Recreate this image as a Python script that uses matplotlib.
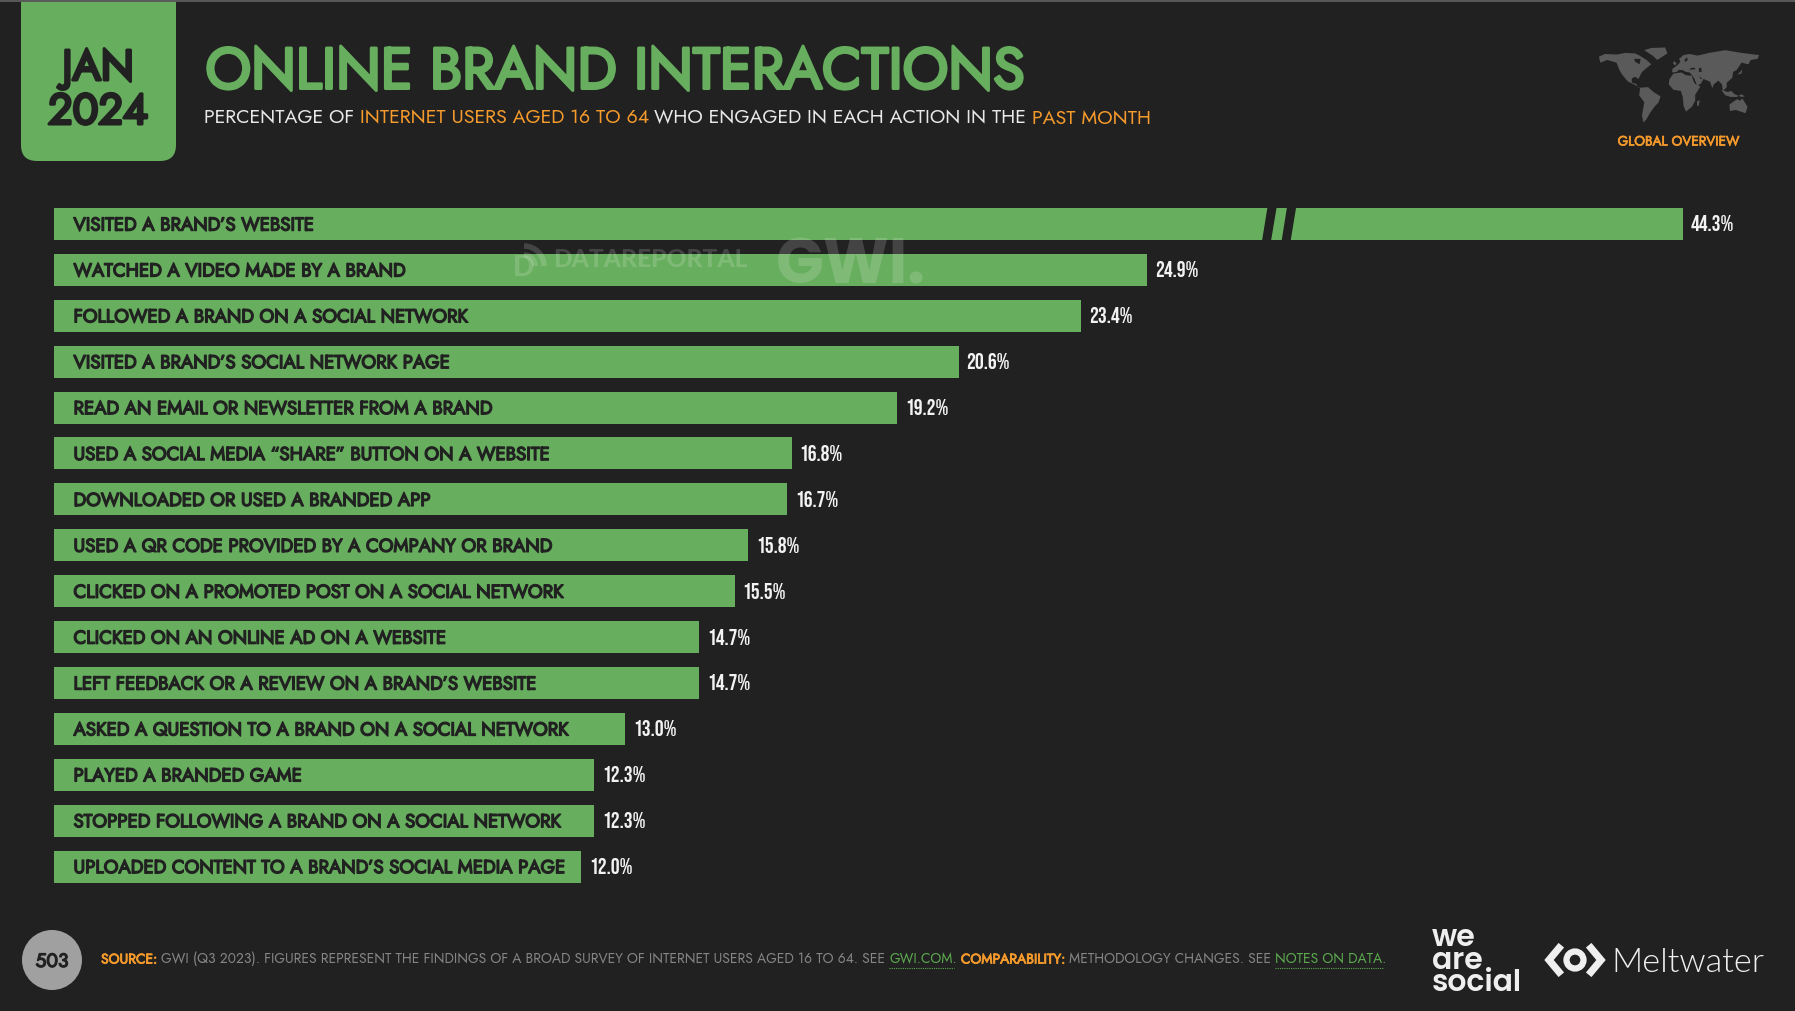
import matplotlib
matplotlib.use("Agg")
import numpy as np
import logging
import matplotlib.pyplot as plt
import matplotlib.patheffects as pe
from matplotlib.patches import FancyBboxPatch, Polygon, Circle, Arc

logging.getLogger("matplotlib.font_manager").setLevel(logging.ERROR)

# ---- data ----
labels = [
    "VISITED A BRAND’S WEBSITE",
    "WATCHED A VIDEO MADE BY A BRAND",
    "FOLLOWED A BRAND ON A SOCIAL NETWORK",
    "VISITED A BRAND’S SOCIAL NETWORK PAGE",
    "READ AN EMAIL OR NEWSLETTER FROM A BRAND",
    "USED A SOCIAL MEDIA “SHARE” BUTTON ON A WEBSITE",
    "DOWNLOADED OR USED A BRANDED APP",
    "USED A QR CODE PROVIDED BY A COMPANY OR BRAND",
    "CLICKED ON A PROMOTED POST ON A SOCIAL NETWORK",
    "CLICKED ON AN ONLINE AD ON A WEBSITE",
    "LEFT FEEDBACK OR A REVIEW ON A BRAND’S WEBSITE",
    "ASKED A QUESTION TO A BRAND ON A SOCIAL NETWORK",
    "PLAYED A BRANDED GAME",
    "STOPPED FOLLOWING A BRAND ON A SOCIAL NETWORK",
    "UPLOADED CONTENT TO A BRAND’S SOCIAL MEDIA PAGE",
]
values = [44.3, 24.9, 23.4, 20.6, 19.2, 16.8, 16.7, 15.8, 15.5, 14.7, 14.7, 13.0, 12.3, 12.3, 12.0]

BG = "#212121"
GREEN = "#67AE5E"
ORANGE = "#F59A2C"
LINK = "#5BA84F"
GREY = "#858585"
WHITE = "#e8e8e8"
FONT = ["Jost", "Lato"]
NARROW = ["Bebas Neue", "Liberation Sans"]
POP = ["Poppins", "Inter"]
W, H = 1795, 1011
PT = 0.72  # pixels to points at dpi 100

fig = plt.figure(figsize=(W / 100, H / 100), dpi=100, facecolor=BG)
renderer = fig.canvas.get_renderer()


def fit(text, target_px, **kw):
    """Font size in points that gives the text the wanted pixel width."""
    t = fig.text(0, 0, text, fontsize=20, **kw)
    w = t.get_window_extent(renderer).width
    t.remove()
    return 20 * target_px / w


def bold(lw, col):
    return [pe.withStroke(linewidth=lw, foreground=col)]


# ---- bars, on an axis compressed past the scale break ----
BREAK_START, BAR_END = 27.5, 37.1
k = (BAR_END - BREAK_START) / (max(values) - BREAK_START)


def fwd(x):
    x = np.asarray(x, dtype=float)
    return np.where(x <= BREAK_START, x, BREAK_START + (x - BREAK_START) * k)


def inv(x):
    x = np.asarray(x, dtype=float)
    return np.where(x <= BREAK_START, x, BREAK_START + (x - BREAK_START) / k)


ax = fig.add_axes([54 / W, 1 - 889.5 / H, (1683 - 54) / W, (889.5 - 201) / H])
ax.set_xscale("function", functions=(fwd, inv))
ax.set_xlim(0, max(values))
ax.set_ylim(len(values) - 0.5, -0.5)
ax.axis("off")
ys = list(range(len(values)))
ax.barh(ys, values, height=0.695, color=GREEN, linewidth=0)
label_size = fit(labels[-1], 493, family=FONT)
for y, lab, val in zip(ys, labels, values):
    ax.annotate(lab, (0, y), xytext=(19.5 * PT, 0.9 * PT), textcoords="offset points", va="center_baseline",
                ha="left", fontsize=label_size, family=FONT, color=BG, path_effects=bold(1.0, BG))
    ax.annotate(f"{val:.1f}%", (val, y), xytext=(8 * PT, 0.5 * PT), textcoords="offset points", va="center_baseline",
                ha="left", fontsize=fit("44.3%", 43.5, family=NARROW), family=NARROW, color="#f2f2f2")

# ---- overlay in pixel coordinates ----
ov = fig.add_axes([0, 0, 1, 1], zorder=5)
ov.set_xlim(0, W)
ov.set_ylim(H, 0)
ov.axis("off")
ov.patch.set_alpha(0)

# break slashes
for xb, xt in ((1262, 1267.5), (1281.6, 1287)):
    ov.add_patch(Polygon([(xb, 241), (xb + 9, 241), (xt + 9.2, 207), (xt, 207)], closed=True, fc=BG, ec="none"))

# date badge
ov.add_patch(FancyBboxPatch((21 + 16, -40 + 16), 155 - 32, 201 - 32, boxstyle="round,pad=16,rounding_size=16",
                            fc=GREEN, ec="none"))
ov.plot([0, W], [0.8, 0.8], color="#5a5a5a", lw=1.4, solid_capstyle="butt")
ov.text(98, 80, "JAN", ha="center", va="baseline", fontsize=fit("JAN", 72, family=FONT), family=FONT, color=BG,
        path_effects=bold(2.2, BG))
ov.text(98, 124, "2024", ha="center", va="baseline", fontsize=fit("2024", 100, family=FONT), family=FONT, color=BG,
        path_effects=bold(2.2, BG))

# title
ov.text(205.5, 88.5, "ONLINE BRAND INTERACTIONS", ha="left", va="baseline",
        fontsize=fit("ONLINE BRAND INTERACTIONS", 822, family=FONT), family=FONT, color=GREEN, path_effects=bold(2.2, GREEN))


def seq(x, y, segs, target, gap, lw=0.6):
    """Lay out runs of differently styled text one after another, filling the target width."""
    size = 20.0
    total = 0
    for txt, col, strong in segs:
        t = ov.text(0, 0, txt, fontsize=size, family=FONT)
        total += t.get_window_extent(renderer).width
        t.remove()
    size *= (target - gap * (len(segs) - 1)) / total
    spans = []
    for txt, col, strong in segs:
        t = ov.text(x, y, txt, ha="left", va="baseline", fontsize=size, color=col, family=FONT,
                    path_effects=bold(lw, col) if strong else None)
        bb = t.get_window_extent(renderer)
        spans.append((txt, x, x + bb.width))
        x += bb.width + gap
    return spans


seq(204, 123, [("PERCENTAGE OF", WHITE, False),
               ("INTERNET USERS AGED 16 TO 64", ORANGE, False),
               ("WHO ENGAGED IN EACH ACTION IN THE", WHITE, False),
               ("PAST MONTH", ORANGE, False)], 951, 5.5)

spans = seq(101, 963.5, [("SOURCE:", ORANGE, True),
                         ("GWI (Q3 2023). FIGURES REPRESENT THE FINDINGS OF A BROAD SURVEY OF INTERNET USERS AGED 16 TO 64. SEE", GREY, False),
                         ("GWI.COM.", LINK, False),
                         ("COMPARABILITY:", ORANGE, True),
                         ("METHODOLOGY CHANGES. SEE", GREY, False),
                         ("NOTES ON DATA.", LINK, False)], 1292, 4)
for txt, x0, x1 in spans:
    if txt in ("GWI.COM.", "NOTES ON DATA."):
        ov.plot([x0, x1 - 3], [967.5, 967.5], color=LINK, lw=0.8, ls=(0, (1, 1)))

# page number
ov.add_patch(Circle((52, 960), 30, fc="#a0a0a0", ec="none"))
ov.text(52, 967, "503", ha="center", va="baseline", fontsize=fit("503", 33, family=FONT), family=FONT, color=BG,
        path_effects=bold(0.9, BG))

# world map (schematic outline, lon/lat)
continents = [
    [(-168, 66), (-155, 71), (-130, 70), (-110, 73), (-90, 72), (-80, 68), (-65, 60), (-55, 52), (-65, 45), (-75, 38),
     (-81, 28), (-82, 25), (-90, 29), (-97, 26), (-97, 18), (-88, 16), (-83, 9), (-79, 8), (-90, 14), (-105, 20),
     (-117, 32), (-124, 42), (-130, 55), (-150, 60), (-165, 55)],
    [(-55, 82), (-25, 83), (-20, 72), (-42, 60), (-52, 68), (-70, 78)],
    [(-79, 9), (-62, 10), (-50, 1), (-35, -7), (-39, -18), (-48, -26), (-58, -38), (-66, -50), (-72, -55), (-75, -42),
     (-70, -18), (-81, -5)],
    [(-10, 37), (-9, 44), (-2, 48), (5, 53), (8, 58), (5, 62), (15, 69), (28, 71), (45, 68), (70, 73), (105, 78),
     (140, 73), (178, 69), (175, 62), (160, 60), (155, 52), (140, 55), (130, 42), (122, 38), (120, 27), (108, 18), (108, 10),
     (100, 3), (98, 15), (90, 22), (80, 15), (77, 8), (72, 20), (58, 25), (52, 16), (44, 13), (35, 30), (28, 37),
     (20, 38), (14, 41), (5, 42), (0, 38)],
    [(-17, 15), (-16, 24), (-7, 35), (10, 37), (20, 32), (33, 31), (38, 18), (51, 11), (40, -4), (40, -15), (33, -26),
     (20, -35), (15, -25), (13, -8), (9, 3), (-7, 5)],
    [(114, -22), (122, -17), (131, -12), (136, -15), (142, -11), (153, -26), (149, -38), (138, -35), (128, -32), (115, -34)],
    [(96, 5), (105, -5), (116, -8), (130, -8), (140, -3), (147, -7), (140, -8), (125, -3), (118, 3), (110, 1)],
    [(-8, 54), (-5, 58), (0, 53), (-4, 50)],
    [(131, 33), (140, 35), (142, 43), (137, 38)],
    [(44, -16), (50, -14), (47, -25), (44, -24)],
]
# inland waters cut out of the land
waters = [
    [(-92, 62), (-78, 62), (-80, 52), (-90, 57)],
    [(-80, 73), (-65, 70), (-68, 63), (-78, 68)],
    [(18, 56), (24, 60), (22, 65), (17, 60)],
    [(28, 42), (41, 43), (38, 46), (30, 45)],
    [(48, 38), (54, 38), (53, 46), (48, 45)],
    [(33, 29), (38, 26), (43, 14), (40, 16)],
    [(48, 30), (56, 25), (52, 25)],
]
to_px = lambda poly: [(1598 + (lon + 170) * 162 / 350, 48 + (82 - lat) * 75 / 138) for lon, lat in poly]
for poly in continents:
    ov.add_patch(Polygon(to_px(poly), closed=True, fc="#5a5a5a", ec="none"))
for poly in waters:
    ov.add_patch(Polygon(to_px(poly), closed=True, fc=BG, ec="none"))
ov.text(1678.5, 145.5, "GLOBAL OVERVIEW", ha="center", va="baseline",
        fontsize=fit("GLOBAL OVERVIEW", 122, family=FONT), family=FONT, color=ORANGE, path_effects=bold(0.5, ORANGE))

# logos
ov.text(1432, 999, "we\nare\nsocial", ha="left", va="bottom", linespacing=0.65, multialignment="left",
        fontsize=fit("social", 90, family=POP, fontweight=600), fontweight=600, family=POP, color="#efefef")
for pts in ([(1559, 948), (1549, 960), (1559, 972)], [(1591, 948), (1601, 960), (1591, 972)]):
    ov.plot(*zip(*pts), color="#efefef", lw=5.2, solid_joinstyle="miter")
ov.add_patch(Circle((1575, 960), 8.5, fc="none", ec="#efefef", lw=4.5))
ov.text(1611, 972, "Meltwater", ha="left", va="baseline", fontsize=fit("Meltwater", 154, family="Lato", fontweight=300),
        fontweight=300, family="Lato", color="#efefef")

# watermarks
WM = dict(color="white", alpha=0.16, va="baseline", ha="left")
ov.text(553, 267, "DATAREPORTAL", fontsize=fit("DATAREPORTAL", 194, family="Lato", fontweight=900),
        family="Lato", fontweight=900, **WM)
ov.text(776, 283, "GWI.", fontsize=fit("GWI.", 150, family=POP, fontweight=700), family=POP, fontweight=700, **WM)
ov.text(513, 276, "D", fontsize=28 * PT, family="Lato", fontweight=900, **WM)
for r in (20, 11):
    ov.add_patch(Arc((524, 266), 2 * r, 2 * r, theta1=-90, theta2=0, ec="white", alpha=0.16, lw=4))

fig.savefig("out.png", dpi=100, facecolor=BG)
